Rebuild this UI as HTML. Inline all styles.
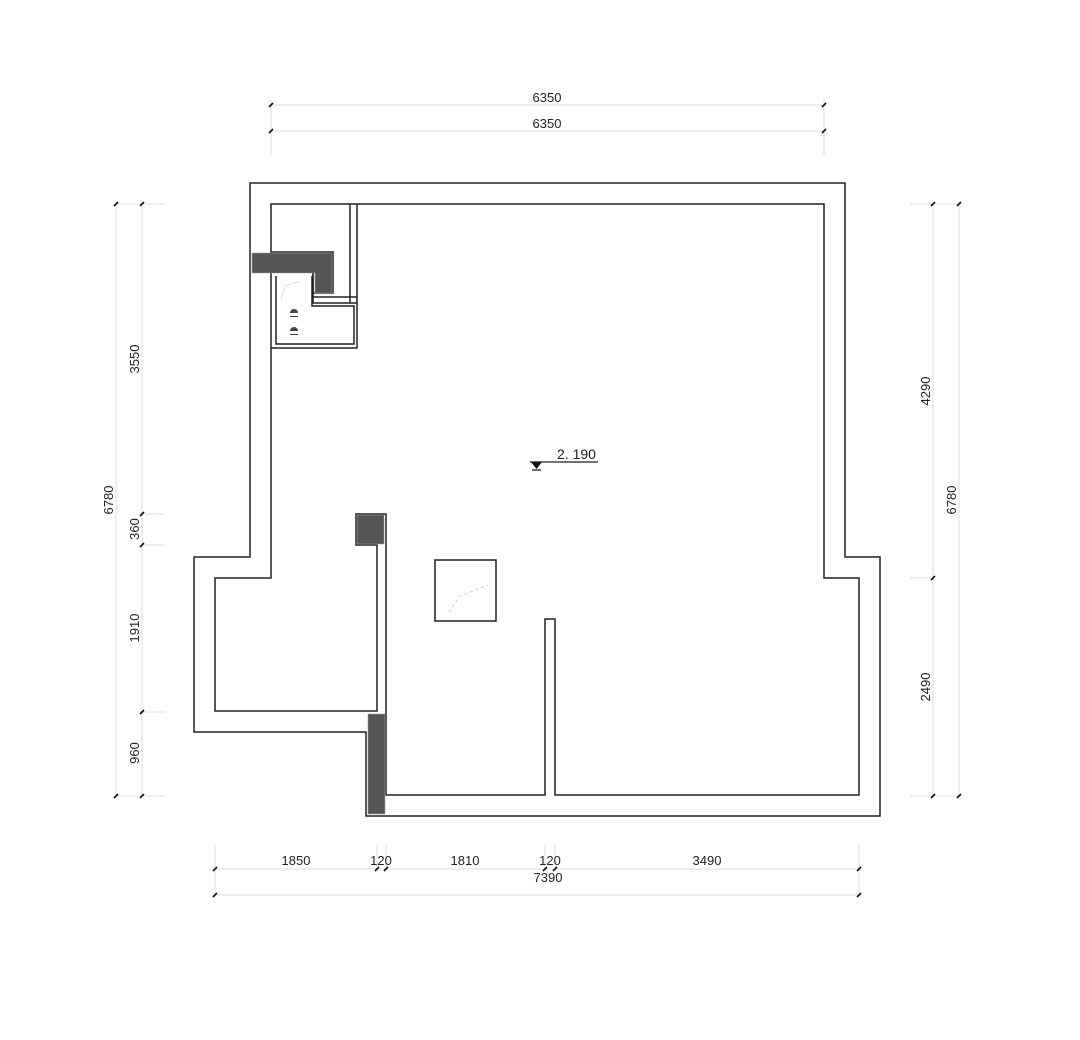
<!DOCTYPE html>
<html><head><meta charset="utf-8"><style>
html,body{margin:0;padding:0;background:#fff;}
svg{display:block;}
text{font-family:"Liberation Sans",sans-serif;font-size:13px;fill:#222;}
</style></head><body>
<svg width="1080" height="1040" viewBox="0 0 1080 1040" xmlns="http://www.w3.org/2000/svg">
<g stroke="#ddd" stroke-width="1" fill="none">
<line x1="271" y1="105" x2="824" y2="105"/><line x1="271" y1="131" x2="824" y2="131"/>
<line x1="271" y1="100" x2="271" y2="155"/><line x1="824" y1="100" x2="824" y2="155"/>
<line x1="116" y1="204" x2="116" y2="796"/><line x1="142" y1="204" x2="142" y2="796"/>
<line x1="116" y1="204" x2="165" y2="204"/><line x1="116" y1="796" x2="165" y2="796"/>
<line x1="142" y1="514" x2="165" y2="514"/><line x1="142" y1="545" x2="165" y2="545"/><line x1="142" y1="712" x2="165" y2="712"/>
<line x1="933" y1="204" x2="933" y2="796"/><line x1="959" y1="204" x2="959" y2="796"/>
<line x1="910" y1="204" x2="959" y2="204"/><line x1="910" y1="796" x2="959" y2="796"/><line x1="910" y1="578" x2="933" y2="578"/>
<line x1="215" y1="869" x2="859" y2="869"/><line x1="215" y1="895" x2="859" y2="895"/>
<line x1="215" y1="845" x2="215" y2="895"/><line x1="859" y1="845" x2="859" y2="895"/>
<line x1="377" y1="845" x2="377" y2="869"/><line x1="386" y1="845" x2="386" y2="869"/>
<line x1="545" y1="845" x2="545" y2="869"/><line x1="555" y1="845" x2="555" y2="869"/>
</g>
<g stroke="#111" stroke-width="1.6">
<path d="M269 107l4-4M822 107l4-4M269 133l4-4M822 133l4-4"/>
<path d="M114 206l4-4M140 206l4-4M114 798l4-4M140 798l4-4M140 516l4-4M140 547l4-4M140 714l4-4"/>
<path d="M931 206l4-4M957 206l4-4M931 798l4-4M957 798l4-4M931 580l4-4"/>
<path d="M213 871l4-4M213 897l4-4M857 871l4-4M857 897l4-4M375 871l4-4M384 871l4-4M543 871l4-4M553 871l4-4"/>
</g>
<g text-anchor="middle">
<text x="547" y="102">6350</text><text x="547" y="128">6350</text>
<text x="296" y="865">1850</text><text x="381" y="865">120</text><text x="465" y="865">1810</text><text x="550" y="865">120</text><text x="707" y="865">3490</text><text x="548" y="882">7390</text>
<text transform="translate(113,500) rotate(-90)">6780</text>
<text transform="translate(139,359) rotate(-90)">3550</text>
<text transform="translate(139,529) rotate(-90)">360</text>
<text transform="translate(139,628) rotate(-90)">1910</text>
<text transform="translate(139,753) rotate(-90)">960</text>
<text transform="translate(930,391) rotate(-90)">4290</text>
<text transform="translate(930,687) rotate(-90)">2490</text>
<text transform="translate(956,500) rotate(-90)">6780</text>
</g>
<g fill="none" stroke="#222" stroke-width="1.5">
<path d="M250 183H845V557H880V816H366V732H194V557H250Z"/>
<path d="M271 204H824V578H859V795H555V619H545V795H386V514H356V545H377V711H215V578H271Z"/>
<line x1="350" y1="204" x2="350" y2="303"/><line x1="357" y1="204" x2="357" y2="303"/>
<path d="M271 252H333V293H313V272H271"/>
<path d="M271 272H313V297H357"/>
<path d="M313 297V303H357V348H271"/>
<path d="M276 276V344H354V306H312V276"/>
<rect x="435" y="560" width="61" height="61"/>
</g>
<g fill="#555" stroke="#999" stroke-width="0.6">
<path d="M252 253H332V293H315V273H252Z"/>
<rect x="357" y="515" width="27" height="29"/>
<rect x="368" y="714" width="17" height="100"/>
</g>
<path d="M290 313a4 4 0 0 1 8 0z M290 316h8v1h-8z" fill="#444"/>
<path d="M290 331a4 4 0 0 1 8 0z M290 334h8v1h-8z" fill="#444"/>
<path d="M281 300 L285 286 L300 281" stroke="#ddd" fill="none"/>
<path d="M449 612 L460 596 L488 585" stroke="#ccc" stroke-dasharray="3 3" fill="none"/>
<line x1="530" y1="462" x2="598" y2="462" stroke="#222" stroke-width="1.2"/>
<path d="M531 462H542L536.5 469Z" fill="#111"/>
<line x1="532" y1="470" x2="541" y2="470" stroke="#111" stroke-width="1.2"/>
<text x="557" y="459" style="font-size:14px">2. 190</text>
</svg>
</body></html>
